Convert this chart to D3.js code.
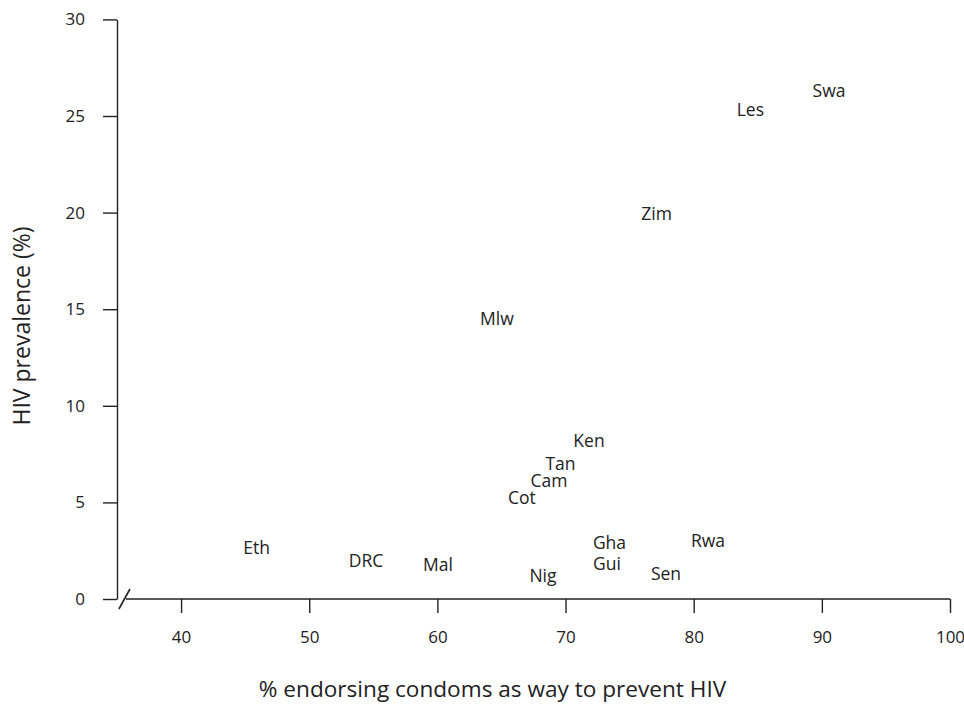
<!DOCTYPE html>
<html>
<head>
<meta charset="utf-8">
<script src="https://cdn.jsdelivr.net/npm/d3@7"></script>
<style>
  html, body { margin: 0; padding: 0; background: #fff; }
  svg { display: block; }
  text { font-family: "Open Sans", "DejaVu Sans", sans-serif; fill: #222; }
</style>
</head>
<body>
<svg id="chart" width="964" height="706"></svg>
<script>
// ---- data ----
const countries = ["Swa","Les","Zim","Mlw","Ken","Tan","Cam","Cot","Gha","Gui","Rwa","Sen","Nig","Mal","DRC","Eth"];
const condomPct = [90.56, 84.42, 77.1, 64.65, 71.83, 69.61, 68.71, 66.6, 73.43, 73.24, 81.12, 77.84, 68.24, 60.05, 54.43, 45.89];
const hivPrev  = [26.33, 25.31, 19.93, 14.49, 8.20, 7.01, 6.13, 5.25, 2.90, 1.84, 3.00, 1.29, 1.22, 1.76, 1.97, 2.64];
const xTicks = [40, 50, 60, 70, 80, 90, 100];
const yTicks = [0, 5, 10, 15, 20, 25, 30];
const xTitle = "% endorsing condoms as way to prevent HIV";
const yTitle = "HIV prevalence (%)";

const svg = d3.select("#chart");
const x = d3.scaleLinear().domain([35, 100]).range([117, 950]);
const y = d3.scaleLinear().domain([0, 30]).range([599, 19.4]);
const ink = "#222";

// y axis
const gy = svg.append("g").attr("transform", `translate(${x(35)},0)`)
  .call(d3.axisLeft(y).tickValues(yTicks).tickSize(14).tickSizeOuter(0).tickPadding(18).tickFormat(d3.format("d")));
gy.select(".domain").attr("stroke", ink).attr("stroke-width", 1.4);
gy.selectAll(".tick line").attr("stroke", ink).attr("stroke-width", 1.4);
gy.selectAll(".tick text").attr("font-size", 17).attr("fill", ink).style("font-family", "'Open Sans', sans-serif");

// x axis
const gx = svg.append("g").attr("transform", `translate(0,${y(0)})`)
  .call(d3.axisBottom(x).tickValues(xTicks).tickSize(14).tickPadding(18).tickFormat(d3.format("d")));
gx.select(".domain").remove();
gx.selectAll(".tick line").attr("stroke", ink).attr("stroke-width", 1.4);
gx.selectAll(".tick text").attr("font-size", 17).attr("fill", ink).style("font-family", "'Open Sans', sans-serif");
svg.append("line")
  .attr("x1", x(35.7)).attr("x2", x(100))
  .attr("y1", y(0)).attr("y2", y(0))
  .attr("stroke", ink).attr("stroke-width", 1.4);
// axis break mark
const bx = x(35.58), by = y(0);
svg.append("line")
  .attr("x1", bx - 5.5).attr("y1", by + 10)
  .attr("x2", bx + 5.5).attr("y2", by - 10)
  .attr("stroke", ink).attr("stroke-width", 1.6);

// labels
svg.append("g").selectAll("text")
  .data(countries)
  .join("text")
  .attr("x", (d, i) => x(condomPct[i]))
  .attr("y", (d, i) => y(hivPrev[i]))
  .attr("dy", "0.36em")
  .attr("text-anchor", "middle")
  .attr("font-size", 17.5)
  .text(d => d);

// axis titles
svg.append("text")
  .attr("x", 492.5).attr("y", 697)
  .attr("text-anchor", "middle")
  .attr("font-size", 22.6)
  .text(xTitle);
svg.append("text")
  .attr("transform", `translate(30,${326}) rotate(-90)`)
  .attr("text-anchor", "middle")
  .attr("font-size", 23)
  .text(yTitle);
</script>
</body>
</html>
